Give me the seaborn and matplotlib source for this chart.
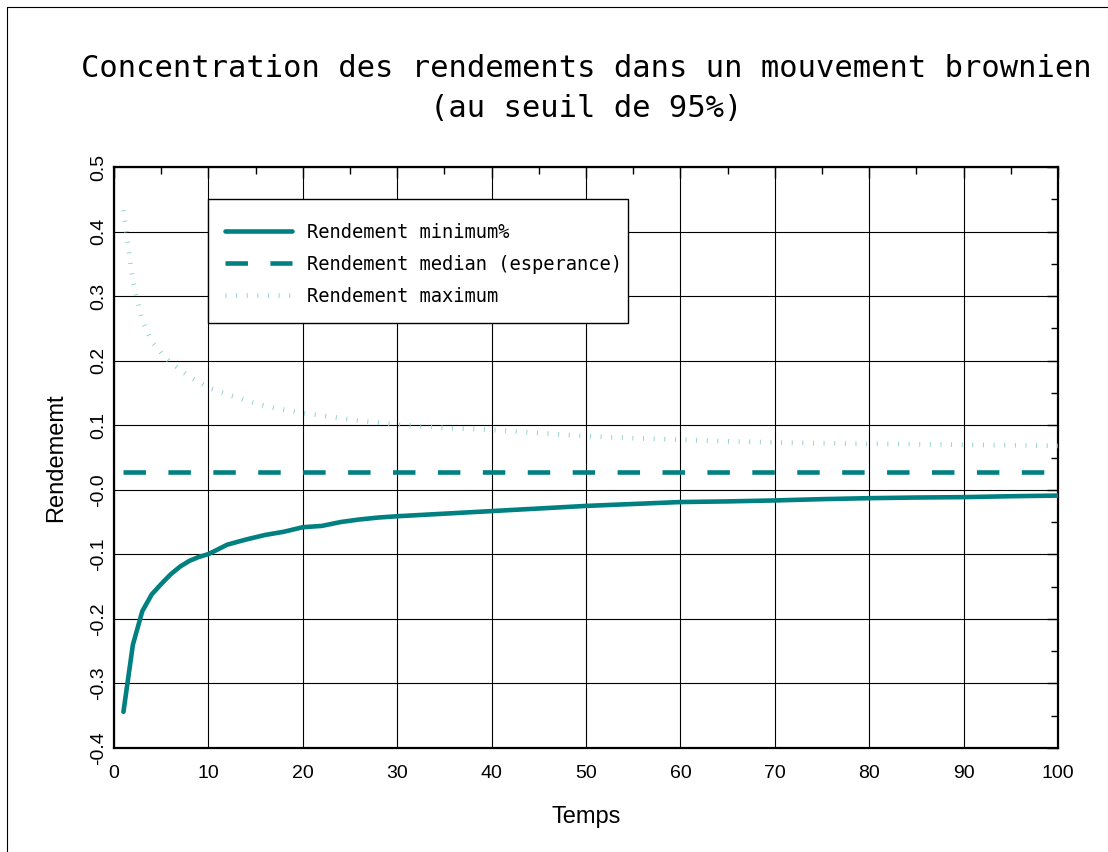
import matplotlib
matplotlib.use("Agg")
import matplotlib.pyplot as plt
from matplotlib.lines import Line2D
from matplotlib.patches import Rectangle
from matplotlib.ticker import MultipleLocator
import seaborn as sns
import pandas as pd

# ---- data ----
temps = [1, 2, 3, 4, 5, 6, 7, 8, 9, 10, 12, 14, 16, 18, 20, 22, 24, 26, 28, 30,
         35, 40, 45, 50, 55, 60, 65, 70, 75, 80, 85, 90, 95, 100]
rend_min = [-0.344, -0.240, -0.188, -0.162, -0.146, -0.131, -0.119, -0.110, -0.104, -0.0997,
            -0.085, -0.077, -0.070, -0.065, -0.058, -0.056, -0.050, -0.046, -0.043, -0.041,
            -0.037, -0.033, -0.029, -0.025, -0.022, -0.019, -0.018, -0.0165, -0.0145, -0.013,
            -0.012, -0.0114, -0.010, -0.009]
rend_med = [0.028] * len(temps)
rend_max = [0.433, 0.322, 0.262, 0.230, 0.212, 0.197, 0.186, 0.175, 0.167, 0.158,
            0.148, 0.138, 0.130, 0.124, 0.119, 0.115, 0.111, 0.107, 0.104, 0.101,
            0.096, 0.093, 0.088, 0.083, 0.080, 0.0775, 0.075, 0.0734, 0.072, 0.0713,
            0.0705, 0.0698, 0.069, 0.068]
x_ticks = [0, 10, 20, 30, 40, 50, 60, 70, 80, 90, 100]
y_ticks = [-0.4, -0.3, -0.2, -0.1, 0.0, 0.1, 0.2, 0.3, 0.4, 0.5]
y_tick_labels = ["-0.4", "-0.3", "-0.2", "-0.1", "-0.0", "0.1", "0.2", "0.3", "0.4", "0.5"]
labels = ["Rendement minimum%", "Rendement median (esperance)", "Rendement maximum"]
title_l1 = "Concentration des rendements dans un mouvement brownien"
title_l2 = "(au seuil de 95%)"

df = pd.DataFrame({"Temps": temps, "min": rend_min, "med": rend_med, "max": rend_max})

sns.set_style("white")
plt.rcParams["font.family"] = ["Liberation Sans", "DejaVu Sans"]
plt.rcParams["text.color"] = "black"
plt.rcParams["axes.labelcolor"] = "black"
plt.rcParams["xtick.color"] = "black"
plt.rcParams["ytick.color"] = "black"

TEAL = "#008080"
LIGHT = "#93d0d0"

fig = plt.figure(figsize=(11.08, 8.52), dpi=100)
ax = fig.add_axes([114 / 1108, 104 / 852, 944 / 1108, 581 / 852])

sns.lineplot(data=df, x="Temps", y="min", ax=ax, color=TEAL, linewidth=3.3, zorder=3)
l_min = ax.get_lines()[-1]
sns.lineplot(data=df, x="Temps", y="med", ax=ax, color=TEAL, linewidth=3.3, zorder=3)
l_med = ax.get_lines()[-1]
l_med.set_dashes([4.9, 4.9])
l_med.set_dash_capstyle("butt")
sns.lineplot(data=df, x="Temps", y="max", ax=ax, color=LIGHT, linewidth=3.4, zorder=3)
l_max = ax.get_lines()[-1]
l_max.set_dashes([0.2, 2.05])
l_max.set_dash_capstyle("butt")

ax.set_xlim(0, 100)
ax.set_ylim(-0.4, 0.5)
ax.set_xticks(x_ticks)
ax.set_yticks(y_ticks)
ax.set_yticklabels(y_tick_labels, rotation=90, va="center")
ax.xaxis.set_minor_locator(MultipleLocator(5))
ax.yaxis.set_minor_locator(MultipleLocator(0.05))
ax.grid(True, which="major", color="black", linewidth=0.8)
ax.set_axisbelow(True)
for s in ax.spines.values():
    s.set_visible(True)
    s.set_color("black")
    s.set_linewidth(1.6)
ax.tick_params(which="both", direction="in", top=True, right=True, color="black")
ax.tick_params(which="major", length=8, width=1)
ax.tick_params(which="minor", length=5, width=1)
ax.tick_params(axis="x", which="major", labelsize=14, pad=12.5)
ax.tick_params(axis="y", which="major", labelsize=14, pad=5)

ax.set_xlabel("Temps", fontsize=17)
ax.set_ylabel("Rendememt", fontsize=17)
ax.xaxis.set_label_coords(0.5, -0.099)
ax.yaxis.set_label_coords(-0.0498, 0.5)

# legend
leg_handles = [
    Line2D([], [], color=TEAL, linewidth=3.3),
    Line2D([], [], color=TEAL, linewidth=3.3, dashes=[4.9, 4.9], dash_capstyle="butt"),
    Line2D([], [], color=LIGHT, linewidth=3.4, dashes=[0.2, 2.05], dash_capstyle="butt"),
]
frame = Rectangle(((208 - 114) / 944, (748 - 323) / 581), 420 / 944, 124 / 581,
                  transform=ax.transAxes, facecolor="white", edgecolor="black",
                  linewidth=1.0, zorder=4)
ax.add_patch(frame)
leg = ax.legend(leg_handles, labels, loc="upper left",
                bbox_to_anchor=((225 - 114) / 944, (748 - 223) / 581),
                frameon=False, borderpad=0, borderaxespad=0,
                handlelength=3.57, handletextpad=0.8, labelspacing=0.68,
                prop={"family": "DejaVu Sans Mono", "size": 13.5})
leg.set_zorder(5)

# title
fig.text(586 / 1108, 1 - 77 / 852, title_l1, ha="center", va="baseline",
         fontsize=22, family="DejaVu Sans Mono")
fig.text(586 / 1108, 1 - 117 / 852, title_l2, ha="center", va="baseline",
         fontsize=22, family="DejaVu Sans Mono")

# figure border (partially visible)
fig.add_artist(Line2D([7 / 1108, 7 / 1108], [0, 1 - 6.5 / 852], transform=fig.transFigure,
                      color="black", linewidth=0.8))
fig.add_artist(Line2D([7 / 1108, 1], [1 - 6.5 / 852, 1 - 6.5 / 852], transform=fig.transFigure,
                      color="black", linewidth=0.8))

fig.savefig("out.png", dpi=100)
